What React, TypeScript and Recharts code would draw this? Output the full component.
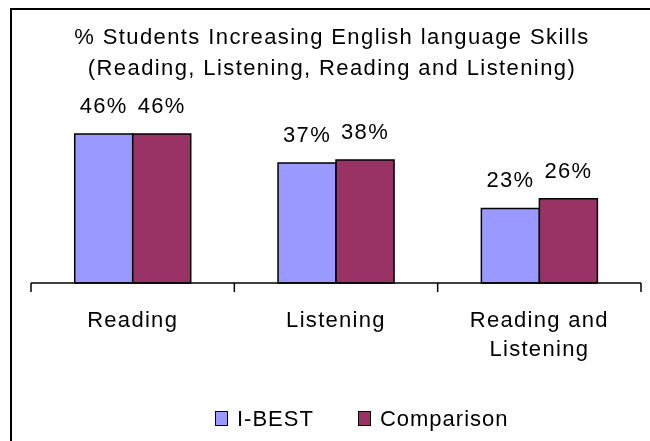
import React from "react";
import { BarChart, Bar, XAxis, YAxis, LabelList, Text, ReferenceLine } from "recharts";

const categories = ["Reading", "Listening", "Reading and Listening"];
const iBest = [46, 37, 23];
const comparison = [46, 38, 26];
const seriesNames = ["I-BEST", "Comparison"];
const COLORS = ["#9999FF", "#993366"];
const titleLines = [
  "% Students Increasing English language Skills",
  "(Reading, Listening, Reading and Listening)",
];

const data = categories.map((name, i) => ({
  name,
  ibest: iBest[i],
  comparison: comparison[i],
}));

const FONT = '"Liberation Sans", Arial, sans-serif';
// length of the tick marks between categories, in value units (about 9px)
const TICK_LEN = 2.8;

const CategoryTick = (props: any) => {
  const { x, y, payload } = props;
  return (
    <Text
      x={x}
      y={y + 28}
      width={160}
      textAnchor="middle"
      verticalAnchor="start"
      lineHeight={29}
      fontSize={22}
      fontFamily={FONT}
      fill="#000"
      style={{ letterSpacing: "1.3px" }}
    >
      {payload.value}
    </Text>
  );
};

const labelStyle = { fontSize: 22, fontFamily: FONT, fill: "#000", letterSpacing: "1.3px" };

const App: React.FC = () => (
  <div
    style={{
      position: "fixed",
      left: 8,
      top: 8,
      width: 642,
      height: 433,
      overflow: "hidden",
      fontFamily: FONT,
    }}
  >
    <div
      style={{
        position: "absolute",
        left: 2,
        top: 0,
        width: 800,
        height: 600,
        border: "2px solid #000",
      }}
    />
    <div
      style={{
        position: "absolute",
        left: 0,
        top: 13,
        width: 648,
        textAlign: "center",
        fontSize: 22,
        lineHeight: "31px",
        letterSpacing: "1.4px",
        color: "#000",
      }}
    >
      {titleLines.map((t) => (
        <div key={t}>{t}</div>
      ))}
    </div>
    <div style={{ position: "absolute", left: 0, top: 0 }}>
      <BarChart
        width={642}
        height={433}
        data={data}
        margin={{ top: 113, right: 9, bottom: 0, left: 23 }}
        barCategoryGap="21.5%"
        barGap={0}
      >
        <XAxis
          dataKey="name"
          axisLine={{ stroke: "#000", strokeWidth: 1.5 }}
          tickLine={false}
          tickSize={0}
          tickMargin={0}
          interval={0}
          height={158}
          tick={<CategoryTick />}
        />
        <YAxis hide domain={[0, 50]} />
        {categories.map((c) => (
          <ReferenceLine
            key={c}
            segment={[
              { x: c, y: 0 },
              { x: c, y: -TICK_LEN },
            ]}
            position="start"
            ifOverflow="visible"
            stroke="#000"
            strokeWidth={1.5}
          />
        ))}
        <ReferenceLine
          segment={[
            { x: categories[categories.length - 1], y: 0 },
            { x: categories[categories.length - 1], y: -TICK_LEN },
          ]}
          position="end"
          ifOverflow="visible"
          stroke="#000"
          strokeWidth={1.5}
        />
        <Bar
          dataKey="ibest"
          name={seriesNames[0]}
          fill={COLORS[0]}
          stroke="#000"
          strokeWidth={1.5}
          isAnimationActive={false}
        >
          <LabelList
            dataKey="ibest"
            position="top"
            offset={21}
            formatter={(v: any) => `${v}%`}
            style={labelStyle}
          />
        </Bar>
        <Bar
          dataKey="comparison"
          name={seriesNames[1]}
          fill={COLORS[1]}
          stroke="#000"
          strokeWidth={1.5}
          isAnimationActive={false}
        >
          <LabelList
            dataKey="comparison"
            position="top"
            offset={21}
            formatter={(v: any) => `${v}%`}
            style={labelStyle}
          />
        </Bar>
      </BarChart>
    </div>
    <div
      style={{
        position: "absolute",
        left: 207,
        top: 398,
        display: "flex",
        alignItems: "center",
        fontSize: 22,
        lineHeight: "25px",
        letterSpacing: "1px",
        color: "#000",
      }}
    >
      {seriesNames.map((n, i) => (
        <div key={n} style={{ display: "flex", alignItems: "center", marginRight: 44 }}>
          <span
            style={{
              display: "inline-block",
              width: 11,
              height: 13,
              background: COLORS[i],
              border: "1.5px solid #000",
              marginRight: 9,
            }}
          />
          <span>{n}</span>
        </div>
      ))}
    </div>
  </div>
);

export default App;
